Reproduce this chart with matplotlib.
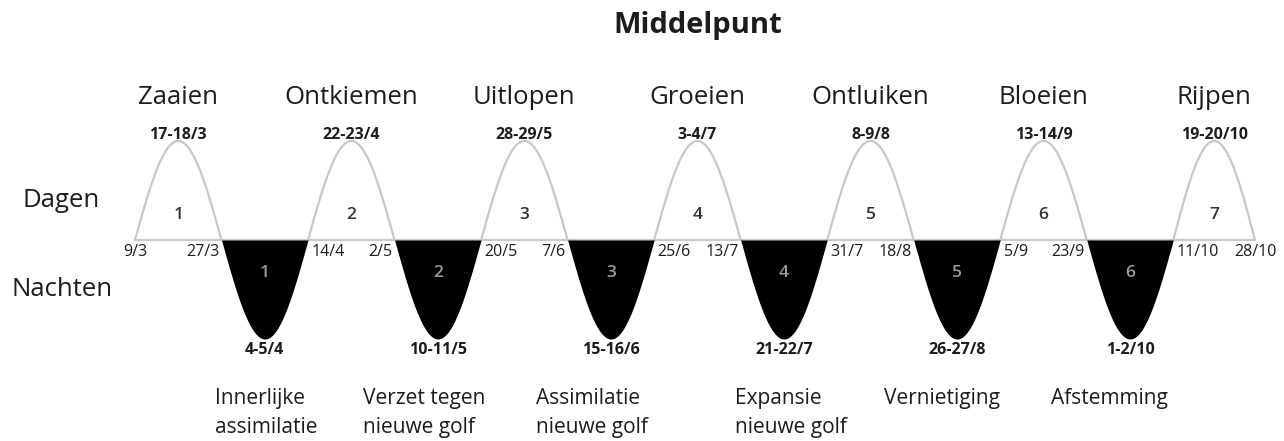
import numpy as np
import pandas as pd
import matplotlib
matplotlib.use("Agg")
import matplotlib.pyplot as plt

plt.rcParams['font.family'] = ['Open Sans', 'DejaVu Sans']

# data
phases = ['Zaaien', 'Ontkiemen', 'Uitlopen', 'Groeien', 'Ontluiken', 'Bloeien', 'Rijpen']
cross_dates = ['9/3', '27/3', '14/4', '2/5', '20/5', '7/6', '25/6', '13/7',
               '31/7', '18/8', '5/9', '23/9', '11/10', '28/10']
peak_dates = ['17-18/3', '22-23/4', '28-29/5', '3-4/7', '8-9/8', '13-14/9', '19-20/10']
trough_dates = ['4-5/4', '10-11/5', '15-16/6', '21-22/7', '26-27/8', '1-2/10']
day_nums = ['1', '2', '3', '4', '5', '6', '7']
night_nums = ['1', '2', '3', '4', '5', '6']
night_desc = ['Innerlijke\nassimilatie', 'Verzet tegen\nnieuwe golf', 'Assimilatie\nnieuwe golf',
              'Expansie\nnieuwe golf', 'Vernietiging', 'Afstemming']

# layout only: shift of the description blocks (days, from trough centre)
desc_shift = [-10.4, -15.6, -15.6, -10.2, -15.2, -16.4]

x = pd.to_datetime(['2023-%s-%s' % (d.split('/')[1], d.split('/')[0]) for d in cross_dates]).dayofyear.values.astype(float)

fig = plt.figure(figsize=(12.84, 4.41), dpi=100)
ax = fig.add_axes([0, 0, 1, 1])
ax.axis('off')
ax.set_xlim(39.92, 307.03)
ax.set_ylim(-2.03, 2.424)

txt = '#1c1c1c'
line_col = '#c8c8c8'

ax.plot([x[0], x[-1]], [0, 0], color=line_col, lw=1.5, zorder=1)

mids = []
for i in range(len(x) - 1):
    a, b = x[i], x[i + 1]
    xs = np.linspace(a, b, 200)
    ys = np.sin(np.pi * (xs - a) / (b - a))
    mids.append((a + b) / 2)
    if i % 2 == 0:
        ax.plot(xs, ys, color=line_col, lw=1.6, zorder=2)
    else:
        ax.fill_between(xs, -ys, 0, color='black', lw=0, zorder=3)
mids = np.array(mids)
day_mid = mids[0::2]
night_mid = mids[1::2]

# title
ax.text(x[0] + (x[-1] - x[0]) / 2 + 0.5, 2.17, 'Middelpunt', ha='center', va='center',
        fontsize=21, fontweight='bold', color=txt)

for i, name in enumerate(phases):
    ax.text(day_mid[i], 1.44, name, ha='center', va='center', fontsize=18.5, color=txt)
    ax.text(day_mid[i], 1.06, peak_dates[i], ha='center', va='center', fontsize=11.5,
            fontweight='bold', color=txt)
    ax.text(day_mid[i], 0.25, day_nums[i], ha='center', va='center', fontsize=12.5,
            fontweight='semibold', color='#333333')

for i in range(len(night_mid)):
    ax.text(night_mid[i], -0.33, night_nums[i], ha='center', va='center', fontsize=12.5,
            fontweight='semibold', color='#9a9a9a', zorder=4)
    ax.text(night_mid[i], -1.11, trough_dates[i], ha='center', va='center', fontsize=11.5,
            fontweight='bold', color=txt)
    ax.text(night_mid[i] + desc_shift[i], -1.49, night_desc[i], ha='left', va='top',
            fontsize=15, color=txt, linespacing=1.5)

# crossing dates
for i, d in enumerate(cross_dates):
    if i == 0 or i == len(cross_dates) - 1:
        ax.text(x[i], -0.12, d, ha='center', va='center', fontsize=11.5, color=txt)
    elif i % 2 == 0:
        ax.text(x[i] + 0.7, -0.12, d, ha='left', va='center', fontsize=11.5, color=txt)
    else:
        ax.text(x[i] - 0.4, -0.12, d, ha='right', va='center', fontsize=11.5, color=txt)

ax.text(44.5, 0.40, 'Dagen', ha='left', va='center', fontsize=18.5, color=txt)
ax.text(42.4, -0.50, 'Nachten', ha='left', va='center', fontsize=18.5, color=txt)

fig.savefig('out.png', dpi=100)
